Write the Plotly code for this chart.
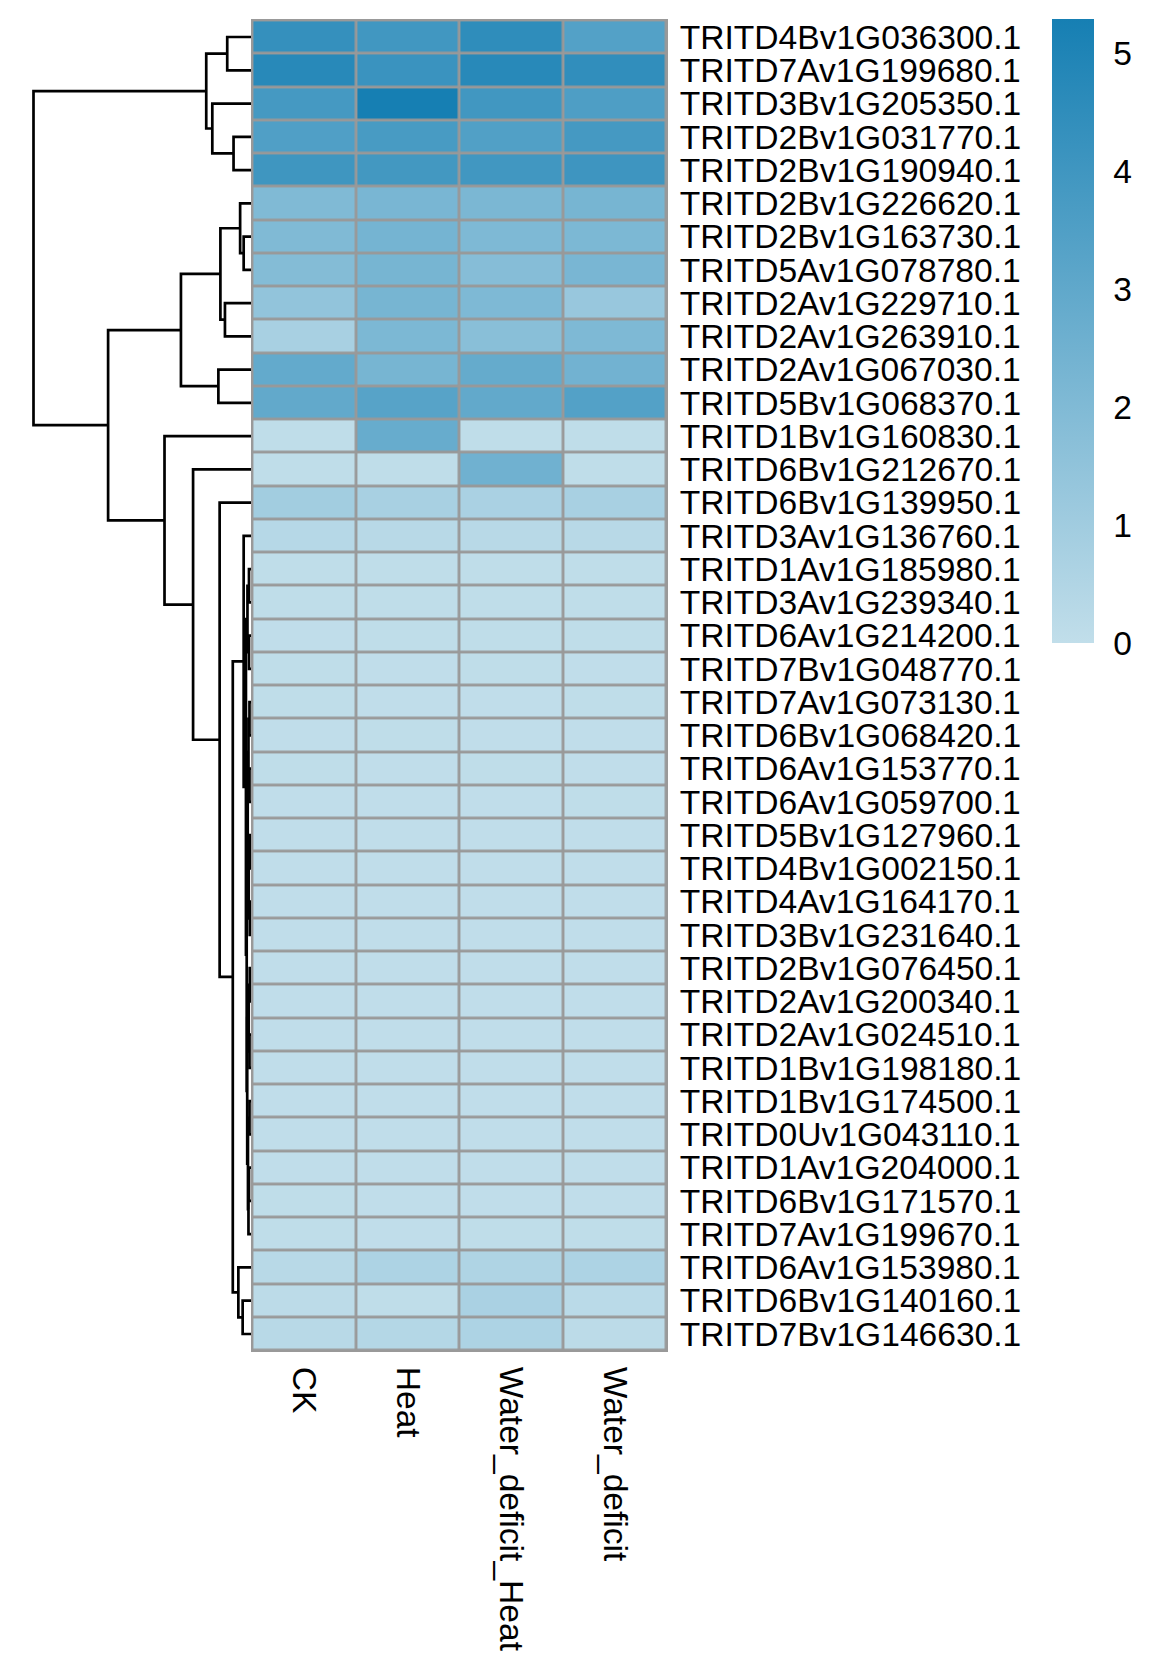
import plotly.graph_objects as go
import numpy as np

# ---------------- data ----------------
genes = [
    "TRITD4Bv1G036300.1", "TRITD7Av1G199680.1", "TRITD3Bv1G205350.1", "TRITD2Bv1G031770.1",
    "TRITD2Bv1G190940.1", "TRITD2Bv1G226620.1", "TRITD2Bv1G163730.1", "TRITD5Av1G078780.1",
    "TRITD2Av1G229710.1", "TRITD2Av1G263910.1", "TRITD2Av1G067030.1", "TRITD5Bv1G068370.1",
    "TRITD1Bv1G160830.1", "TRITD6Bv1G212670.1", "TRITD6Bv1G139950.1", "TRITD3Av1G136760.1",
    "TRITD1Av1G185980.1", "TRITD3Av1G239340.1", "TRITD6Av1G214200.1", "TRITD7Bv1G048770.1",
    "TRITD7Av1G073130.1", "TRITD6Bv1G068420.1", "TRITD6Av1G153770.1", "TRITD6Av1G059700.1",
    "TRITD5Bv1G127960.1", "TRITD4Bv1G002150.1", "TRITD4Av1G164170.1", "TRITD3Bv1G231640.1",
    "TRITD2Bv1G076450.1", "TRITD2Av1G200340.1", "TRITD2Av1G024510.1", "TRITD1Bv1G198180.1",
    "TRITD1Bv1G174500.1", "TRITD0Uv1G043110.1", "TRITD1Av1G204000.1", "TRITD6Bv1G171570.1",
    "TRITD7Av1G199670.1", "TRITD6Av1G153980.1", "TRITD6Bv1G140160.1", "TRITD7Bv1G146630.1",
]
conditions = ["CK", "Heat", "Water_deficit_Heat", "Water_deficit"]

ck = [4.34, 4.73, 3.84, 3.51, 4.01, 2.00, 2.00, 1.89, 1.45, 0.78,
      2.90, 2.95, 0.05, 0.05, 0.95, 0.33, 0.06, 0.05, 0.04, 0.05,
      0.05, 0.04, 0.05, 0.04, 0.03, 0.04, 0.03, 0.04, 0.03, 0.04,
      0.03, 0.04, 0.04, 0.03, 0.04, 0.05, 0.05, 0.28, 0.17, 0.28]
heat = [3.95, 4.18, 5.29, 3.73, 3.90, 2.23, 2.34, 2.28, 2.28, 2.12,
        2.28, 3.29, 2.78, 0.05, 0.78, 0.28, 0.05, 0.05, 0.05, 0.04,
        0.04, 0.05, 0.04, 0.04, 0.04, 0.03, 0.04, 0.03, 0.04, 0.03,
        0.04, 0.03, 0.04, 0.04, 0.03, 0.04, 0.04, 0.61, 0.06, 0.39]
wdh = [4.51, 4.73, 3.95, 3.45, 3.95, 2.17, 2.06, 1.84, 2.06, 1.73,
       2.84, 2.95, 0.05, 2.50, 0.72, 0.28, 0.05, 0.06, 0.05, 0.05,
       0.04, 0.04, 0.05, 0.04, 0.04, 0.04, 0.03, 0.04, 0.04, 0.03,
       0.03, 0.04, 0.03, 0.04, 0.04, 0.04, 0.05, 0.56, 0.72, 0.61]
wd = [3.40, 4.45, 3.56, 3.84, 4.05, 2.28, 2.12, 2.23, 1.28, 2.06,
      2.45, 3.40, 0.05, 0.05, 0.78, 0.28, 0.05, 0.05, 0.05, 0.04,
      0.05, 0.04, 0.04, 0.05, 0.03, 0.04, 0.04, 0.03, 0.03, 0.04,
      0.04, 0.03, 0.04, 0.03, 0.04, 0.04, 0.05, 0.61, 0.22, 0.17]

# row dendrogram (hclust-style merge table: negative = leaf number, positive = earlier step)
merge_left = [-1, -4, -3, 1, -7, -6, -9, 6, -11, 8,
              -17, -19, 11, -21, -23, 14, -25, -27, 17, -29,
              -31, 20, -33, -35, 24, 23, 16, 22, 27, 13,
              -16, -39, -38, 31, -15, -14, -13, 10, 4]
merge_right = [-2, -5, 2, 3, -8, 5, -10, 7, -12, 9,
               -18, -20, 12, -22, -24, 15, -26, -28, 18, -30,
               -32, 21, -34, -36, -37, 25, 19, 26, 28, 29,
               30, -40, 32, 33, 34, 35, 36, 37, 38]
merge_height = [0.94, 0.69, 1.53, 1.77, 0.29, 0.43, 1.03, 1.21, 1.29, 2.77,
                0.08, 0.08, 0.14, 0.06, 0.06, 0.10, 0.05, 0.05, 0.09, 0.05,
                0.06, 0.09, 0.06, 0.08, 0.10, 0.12, 0.13, 0.15, 0.17, 0.20,
                0.29, 0.33, 0.50, 0.72, 1.24, 2.29, 3.42, 5.65, 8.60]

# ---------------- layout geometry (page pixels) ----------------
PAGE_W, PAGE_H = 1172, 1677
OFF = 8                      # default body margin of the html page
W, H = PAGE_W - 2 * OFF, PAGE_H - 2 * OFF
hm_left, hm_right, hm_top, hm_bottom = 251, 668, 19, 1352
dend_left, dend_root = 20, 33.5
cb_left, cb_top, cb_bottom, cb_thick = 1052, 19, 643, 42
FONT = "Liberation Sans, Arial, sans-serif"
FS = 33.6


def fx(p):
    return (p - OFF) / W


def fy(p):
    return 1 - (p - OFF) / H


n = len(genes)
z = np.array([ck, heat, wdh, wd]).T

# dendrogram segments
pos = {}
dx, dy = [], []


def node(ref):
    if ref < 0:
        return float(-ref - 1), 0.0
    return pos[ref], merge_height[ref - 1]


for k, (a, b, h) in enumerate(zip(merge_left, merge_right, merge_height), start=1):
    ya, ha = node(a)
    yb, hb = node(b)
    dx += [ha, h, h, hb, None]
    dy += [ya, ya, yb, yb, None]
    pos[k] = (ya + yb) / 2

root_h = max(merge_height)
ppu = (hm_left - dend_root) / root_h
dend_range_max = (hm_left - dend_left) / ppu

colorscale = [[0.0, "#C1DEEA"], [1.0, "#167FB3"]]

fig = go.Figure()

fig.add_trace(go.Heatmap(
    z=z, x=list(range(len(conditions))), y=list(range(n)),
    zmin=0, zmax=float(z.max()),
    colorscale=colorscale, xgap=2.8, ygap=2.8,
    hoverinfo="skip",
    colorbar=dict(
        x=fx(cb_left), xanchor="left", xpad=0, ypad=0,
        y=fy(cb_top), yanchor="top",
        len=(cb_bottom - cb_top) / H, lenmode="fraction",
        thickness=cb_thick, thicknessmode="pixels",
        outlinewidth=0,
        tickmode="array", tickvals=[0, 1, 2, 3, 4, 5],
        ticks="outside", ticklen=13, tickcolor="rgba(0,0,0,0)",
        tickfont=dict(family=FONT, size=FS, color="black"),
    ),
))

fig.add_trace(go.Scatter(
    x=dx, y=dy, mode="lines", xaxis="x2", yaxis="y2",
    line=dict(color="black", width=2.7),
    hoverinfo="skip", showlegend=False,
))

ex = 1.4 / ((hm_right - hm_left) / len(conditions))
ey = 1.4 / ((hm_bottom - hm_top) / n)

fig.update_layout(
    width=W, height=H,
    margin=dict(l=0, r=0, t=0, b=0),
    paper_bgcolor="white", plot_bgcolor="white",
    showlegend=False,
    font=dict(family=FONT, size=FS, color="black"),
    xaxis=dict(
        domain=[fx(hm_left), fx(hm_right)], anchor="y",
        range=[-0.5 - ex, len(conditions) - 0.5 + ex],
        tickmode="array", tickvals=list(range(len(conditions))), ticktext=conditions,
        tickangle=90, ticks="outside", ticklen=7, tickcolor="rgba(0,0,0,0)",
        tickfont=dict(family=FONT, size=FS, color="black"),
        showgrid=False, zeroline=False, showline=False, automargin=False, fixedrange=True,
    ),
    yaxis=dict(
        domain=[fy(hm_bottom), fy(hm_top)], anchor="x",
        range=[n - 0.5 + ey, -0.5 - ey], side="right",
        tickmode="array", tickvals=list(range(n)), ticktext=genes,
        ticks="outside", ticklen=4, tickcolor="rgba(0,0,0,0)",
        tickfont=dict(family=FONT, size=FS, color="black"),
        showgrid=False, zeroline=False, showline=False, automargin=False, fixedrange=True,
    ),
    xaxis2=dict(
        domain=[fx(dend_left), fx(hm_left)], anchor="y2",
        range=[dend_range_max, 0], visible=False, fixedrange=True,
    ),
    yaxis2=dict(
        domain=[fy(hm_bottom), fy(hm_top)], anchor="x2",
        range=[n - 0.5 + ey, -0.5 - ey], visible=False, fixedrange=True,
    ),
    shapes=[dict(
        type="rect", xref="x domain", yref="y domain",
        x0=0, x1=1, y0=0, y1=1, layer="below",
        fillcolor="#999999", line=dict(width=0),
    )],
)

fig.write_html("out.html")
